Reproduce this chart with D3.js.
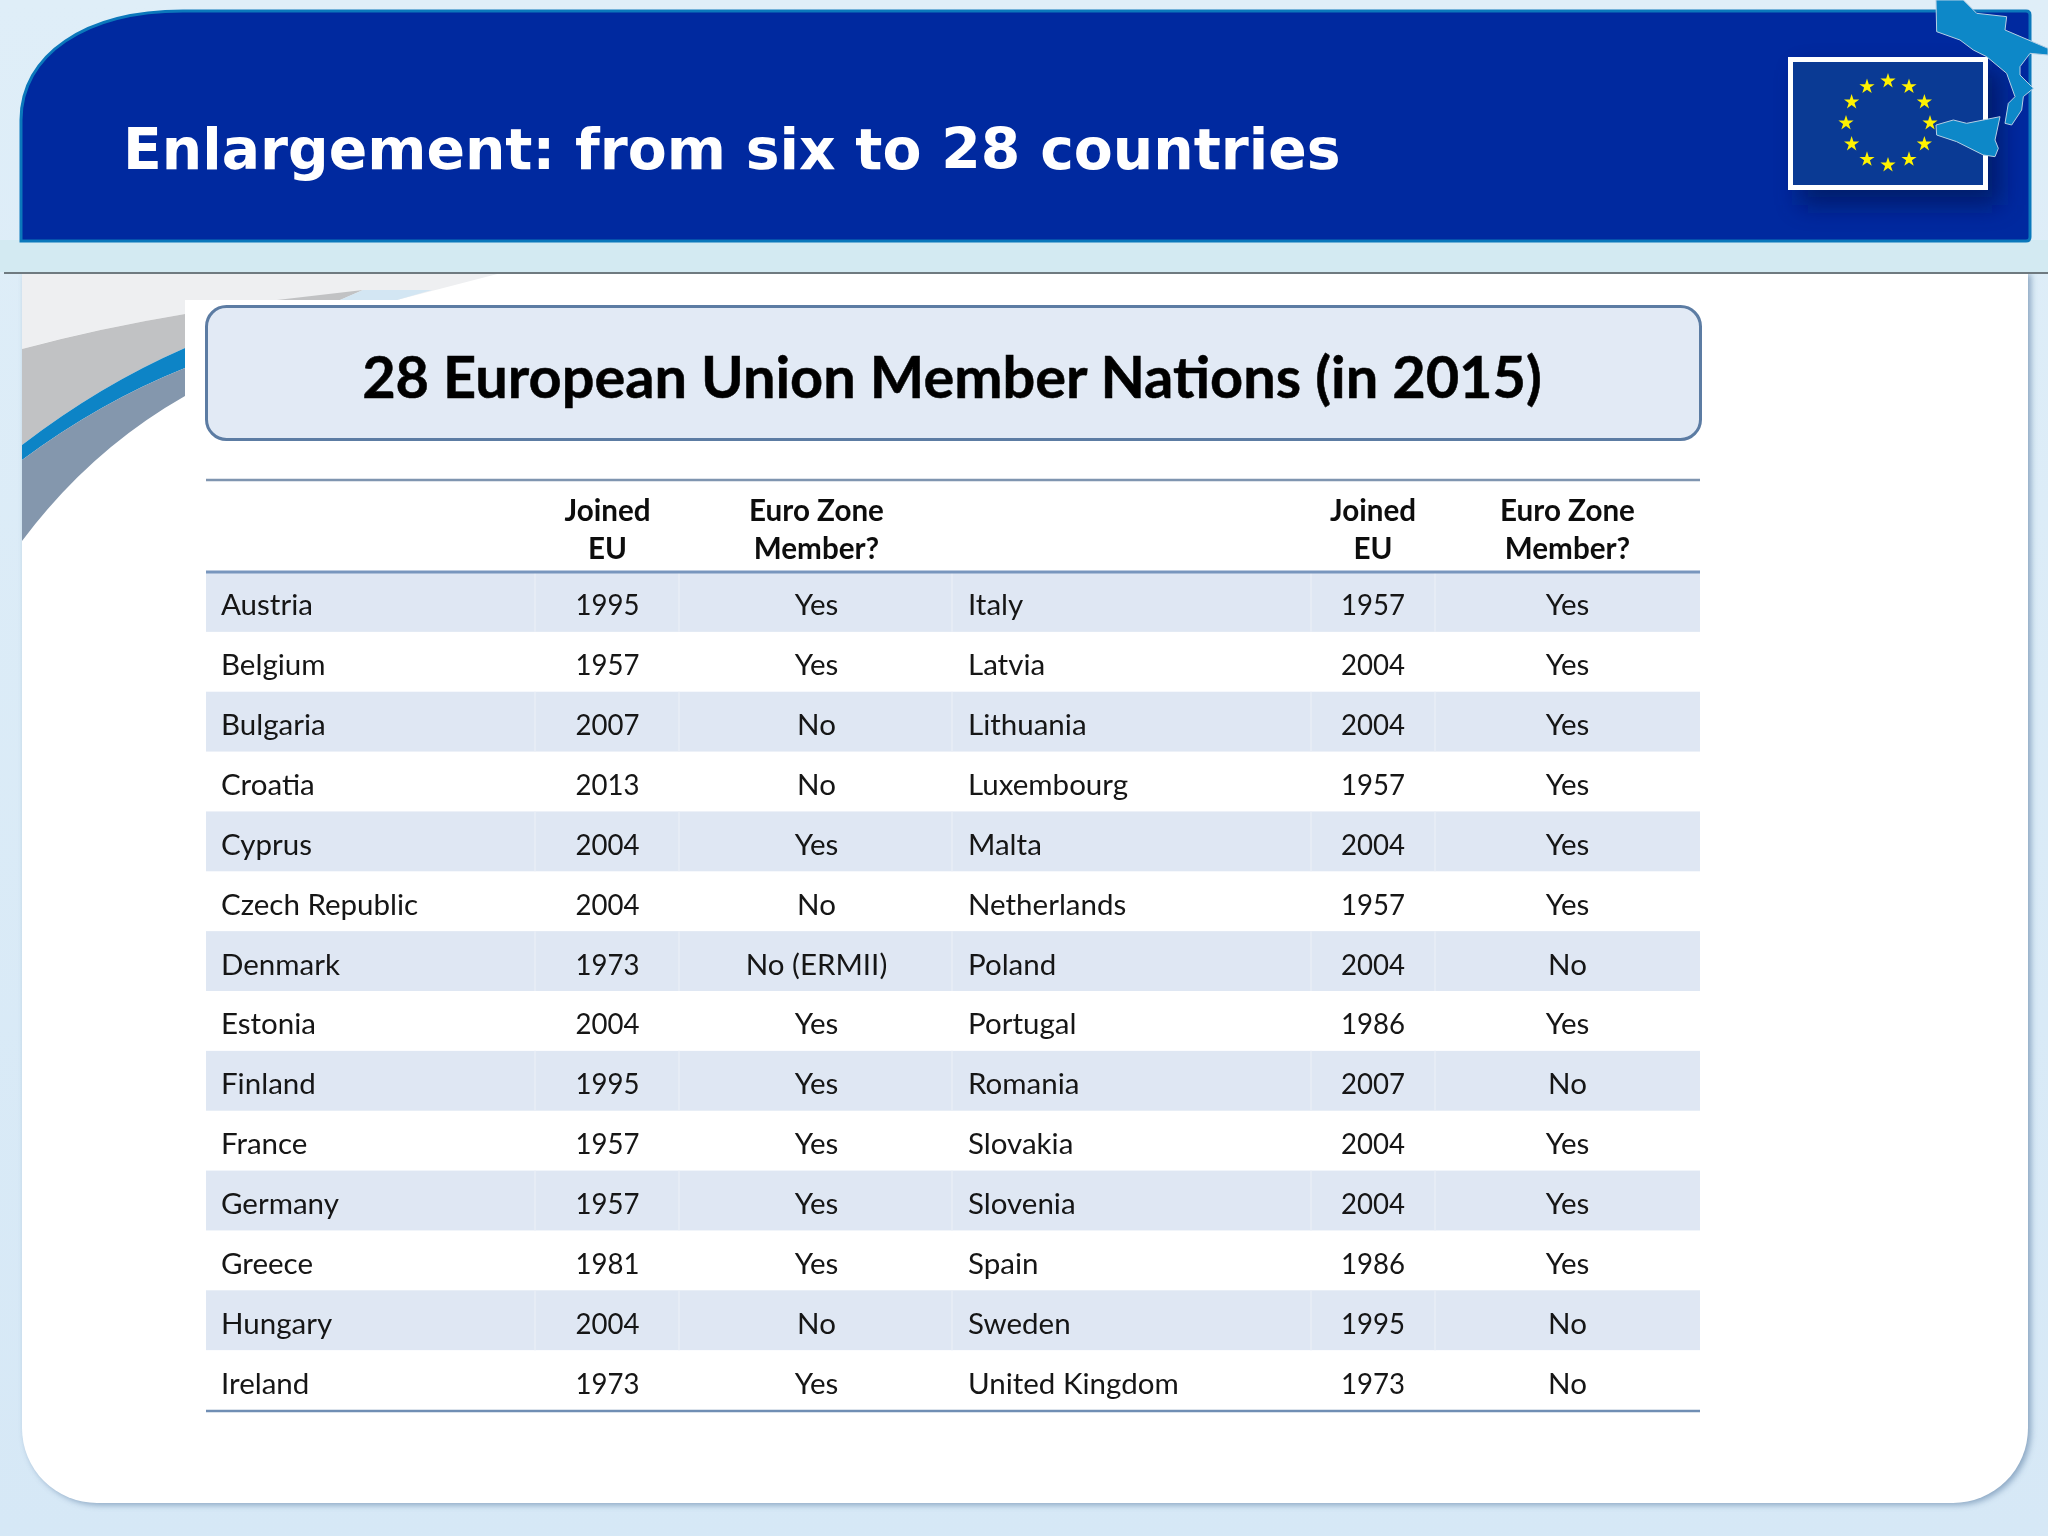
<!DOCTYPE html>
<html>
<head>
<meta charset="utf-8">
<script src="https://cdn.jsdelivr.net/npm/d3@7"></script>
<style>
    html, body { margin: 0; padding: 0; background: #d7e8f6; }
    svg { display: block; }
</style>
</head>
<body>
<div id="slide"></div>
<script>
// table values
const headerJoined = ["Joined", "EU"];
const headerEuro = ["Euro Zone", "Member?"];
const countriesLeft = ["Austria", "Belgium", "Bulgaria", "Croatia", "Cyprus", "Czech Republic", "Denmark", "Estonia", "Finland", "France", "Germany", "Greece", "Hungary", "Ireland"];
const joinedLeft = [1995, 1957, 2007, 2013, 2004, 2004, 1973, 2004, 1995, 1957, 1957, 1981, 2004, 1973];
const euroLeft = ["Yes", "Yes", "No", "No", "Yes", "No", "No (ERMII)", "Yes", "Yes", "Yes", "Yes", "Yes", "No", "Yes"];
const countriesRight = ["Italy", "Latvia", "Lithuania", "Luxembourg", "Malta", "Netherlands", "Poland", "Portugal", "Romania", "Slovakia", "Slovenia", "Spain", "Sweden", "United Kingdom"];
const joinedRight = [1957, 2004, 2004, 1957, 2004, 1957, 2004, 1986, 2007, 2004, 2004, 1986, 1995, 1973];
const euroRight = ["Yes", "Yes", "Yes", "Yes", "Yes", "Yes", "No", "Yes", "No", "Yes", "Yes", "Yes", "No", "No"];

const slideTitle = "Enlargement: from six to 28 countries";
const tableTitle = "28 European Union Member Nations (in 2015)";

const width = 2048, height = 1536;
const tableFont = "Lato, 'Open Sans', sans-serif";

const svg = d3.select("#slide").append("svg")
    .attr("width", width)
    .attr("height", height)
    .attr("viewBox", `0 0 ${width} ${height}`);

const defs = svg.append("defs");

const soft = defs.append("filter").attr("id", "soft")
    .attr("x", "-10%").attr("y", "-10%").attr("width", "125%").attr("height", "125%");
soft.append("feGaussianBlur").attr("stdDeviation", 3);

const flagShadow = defs.append("filter").attr("id", "flagShadow")
    .attr("x", "-20%").attr("y", "-20%").attr("width", "150%").attr("height", "150%");
flagShadow.append("feGaussianBlur").attr("stdDeviation", 12);

const textSoft = defs.append("filter").attr("id", "textSoft");
textSoft.append("feGaussianBlur").attr("stdDeviation", 0.5);

const bg = defs.append("linearGradient").attr("id", "bg")
    .attr("x1", 0).attr("y1", 0).attr("x2", 0).attr("y2", 1);
bg.append("stop").attr("offset", "0%").attr("stop-color", "#dfeef8");
bg.append("stop").attr("offset", "100%").attr("stop-color", "#d6e8f6");

// slide background
svg.append("rect").attr("width", width).attr("height", height).attr("fill", "url(#bg)");

// white panel
const panelPath = "M22,272 H2028 V1428 A75,75 0 0 1 1953,1503 H97 A75,75 0 0 1 22,1428 Z";
svg.append("path").attr("d", panelPath)
    .attr("fill", "#6f8fb0").attr("opacity", 0.75)
    .attr("transform", "translate(3,2)")
    .attr("filter", "url(#soft)");
svg.append("path").attr("d", panelPath).attr("fill", "#ffffff");

// swooshes in the top left corner of the panel
svg.append("path")
    .attr("d", "M22,272 H505 L397,300 H185 V314 Q90,330 22,349 Z")
    .attr("fill", "#eeeff1");
svg.append("path")
    .attr("d", "M277,300 L363,290 L340,300 Z")
    .attr("fill", "#c1c2c4");
svg.append("path")
    .attr("d", "M340,300 L363,290 H432 L397,300 Z")
    .attr("fill", "#d3e6f3");
svg.append("path")
    .attr("d", "M22,349 Q100,328 185,314 L185,348 Q100,385 22,445 Z")
    .attr("fill", "#c1c2c4");
svg.append("path")
    .attr("d", "M22,445 Q100,385 185,348 L185,368 Q100,402 22,460 Z")
    .attr("fill", "#0d84c6");
svg.append("path")
    .attr("d", "M22,460 Q100,402 185,368 L185,396 Q90,450 22,541 Z")
    .attr("fill", "#8497ad");

// pale band and rule under the header
svg.append("rect").attr("x", 0).attr("y", 240).attr("width", width).attr("height", 32).attr("fill", "#d3eaf2");
svg.append("rect").attr("x", 4).attr("y", 272).attr("width", width - 4).attr("height", 2).attr("fill", "#6f7a80");

// blue header
svg.append("path")
    .attr("d", "M21,241 V120 C21,55 85,11 183,11 H2026 Q2030,11 2030,15 V237 Q2030,241 2026,241 Z")
    .attr("fill", "#00299f")
    .attr("stroke", "#0b78bb")
    .attr("stroke-width", 3);

svg.append("text")
    .attr("x", 123)
    .attr("y", 169)
    .attr("font-family", "'DejaVu Sans', Verdana, sans-serif")
    .attr("font-weight", "bold")
    .attr("font-size", 56.8)
    .attr("fill", "#ffffff")
    .text(slideTitle);

// flag
svg.append("rect")
    .attr("x", 1800).attr("y", 70).attr("width", 200).attr("height", 135)
    .attr("fill", "#00144f").attr("opacity", 0.65)
    .attr("filter", "url(#flagShadow)");
svg.append("rect")
    .attr("x", 1790.5).attr("y", 59.5).attr("width", 195).attr("height", 128)
    .attr("fill", "#0a3a94")
    .attr("stroke", "#ffffff")
    .attr("stroke-width", 5);

const starRing = d3.scaleLinear().domain([0, 12]).range([0, 2 * Math.PI]);
const star = d3.symbol().type(d3.symbolStar).size(72);
svg.append("g").selectAll("path")
    .data(d3.range(12))
    .enter()
    .append("path")
    .attr("d", star)
    .attr("fill", "#fff200")
    .attr("transform", d => `translate(${1888 + 42 * Math.sin(starRing(d))},${123 - 42 * Math.cos(starRing(d))})`);

// southern Italy and Sicily over the flag corner
const italyOutline = [[708, 0], [790, 0], [830, 40], [920, 50], [915, 90], [1044, 145], [1044, 165], [990, 160], [960, 200], [960, 225], [1000, 265], [970, 290], [965, 330], [935, 375], [915, 370], [925, 310], [945, 290], [920, 220], [860, 170], [820, 150], [780, 120], [710, 95]];
const sicilyOutline = [[708, 375], [760, 360], [800, 370], [900, 350], [885, 420], [895, 445], [885, 470], [850, 465], [770, 425], [710, 405]];
const mapLine = d3.line().x(d => 1700 + d[0] / 3).y(d => d[1] / 3).curve(d3.curveLinearClosed);
svg.selectAll("path.map")
    .data([italyOutline, sicilyOutline])
    .enter()
    .append("path")
    .attr("class", "map")
    .attr("d", mapLine)
    .attr("fill", "#0d88c8")
    .attr("stroke", "#b5cfe4")
    .attr("stroke-width", 1);

// pasted table picture
svg.append("rect").attr("x", 185).attr("y", 300).attr("width", 1540).attr("height", 1130).attr("fill", "#ffffff");

const table = svg.append("g").attr("filter", "url(#textSoft)");

table.append("rect")
    .attr("x", 206.5).attr("y", 306.5).attr("width", 1494).attr("height", 133).attr("rx", 20)
    .attr("fill", "#e2eaf5")
    .attr("stroke", "#5b7ba3")
    .attr("stroke-width", 3);

table.append("text")
    .attr("x", 952)
    .attr("y", 398)
    .attr("text-anchor", "middle")
    .attr("font-family", tableFont)
    .attr("font-weight", "bold")
    .attr("font-size", 57.7)
    .attr("fill", "#050505")
    .attr("stroke", "#050505")
    .attr("stroke-width", 0.5)
    .text(tableTitle);

// one band per table row, each row holds a left and a right country
const rowScale = d3.scaleBand()
    .domain(countriesLeft)
    .range([572, 1410]);

const leftX = 221, rightX = 968;
const centerX = d3.scaleOrdinal()
    .domain(["joinedLeft", "euroLeft", "joinedRight", "euroRight"])
    .range([607.5, 816.5, 1373, 1567.5]);

const stripes = countriesLeft.filter((d, i) => i % 2 === 0);
table.append("g").selectAll("rect")
    .data(stripes)
    .enter()
    .append("rect")
    .attr("x", 206)
    .attr("y", d => rowScale(d))
    .attr("width", 1494)
    .attr("height", rowScale.bandwidth())
    .attr("fill", "#dfe7f3");

// faint white cell dividers in the striped rows
const dividers = [535, 679, 952, 1311, 1435];
table.append("g").selectAll("g")
    .data(stripes)
    .enter()
    .append("g")
    .selectAll("line")
    .data(d => dividers.map(x => ({x: x, row: d})))
    .enter()
    .append("line")
    .attr("x1", d => d.x).attr("x2", d => d.x)
    .attr("y1", d => rowScale(d.row))
    .attr("y2", d => rowScale(d.row) + rowScale.bandwidth())
    .attr("stroke", "#e9eef6")
    .attr("stroke-width", 1.5);

// horizontal rules
table.append("line").attr("x1", 206).attr("x2", 1700).attr("y1", 480).attr("y2", 480)
    .attr("stroke", "#7f95b0").attr("stroke-width", 2.5);
table.append("line").attr("x1", 206).attr("x2", 1700).attr("y1", 572).attr("y2", 572)
    .attr("stroke", "#7896bd").attr("stroke-width", 3);
table.append("line").attr("x1", 206).attr("x2", 1700).attr("y1", 1411).attr("y2", 1411)
    .attr("stroke", "#6f8eb4").attr("stroke-width", 2.5);

// column headers
const headerLines = [
    {col: "joinedLeft", lines: headerJoined},
    {col: "euroLeft", lines: headerEuro},
    {col: "joinedRight", lines: headerJoined},
    {col: "euroRight", lines: headerEuro}
];
headerLines.forEach(h => {
    table.selectAll(null)
        .data(h.lines)
        .enter()
        .append("text")
        .attr("x", centerX(h.col))
        .attr("y", (d, i) => 521 + i * 38)
        .attr("text-anchor", "middle")
        .attr("font-family", tableFont)
        .attr("font-weight", "bold")
        .attr("font-size", 29.6)
        .attr("fill", "#101010")
        .text(d => d);
});

// body cells
const rowBaseline = i => rowScale(countriesLeft[i]) + rowScale.bandwidth() / 2 + 13.5;

function drawNames(names, x) {
    table.append("g").selectAll("text")
        .data(names)
        .enter()
        .append("text")
        .attr("x", x)
        .attr("y", (d, i) => rowBaseline(i))
        .attr("font-family", tableFont)
        .attr("font-size", 29.5)
        .attr("fill", "#141414")
        .text(d => d);
}

function drawCentered(values, col) {
    return table.append("g").selectAll("text")
        .data(values)
        .enter()
        .append("text")
        .attr("x", centerX(col))
        .attr("y", (d, i) => rowBaseline(i))
        .attr("text-anchor", "middle")
        .attr("font-family", tableFont)
        .attr("font-size", 29.5)
        .attr("fill", "#141414")
        .text(d => d);
}

// the years are narrower in the original face
function drawYears(values, col) {
    drawCentered(values, col)
        .attr("textLength", 64)
        .attr("lengthAdjust", "spacingAndGlyphs");
}

drawNames(countriesLeft, leftX);
drawNames(countriesRight, rightX);
drawYears(joinedLeft, "joinedLeft");
drawCentered(euroLeft, "euroLeft");
drawYears(joinedRight, "joinedRight");
drawCentered(euroRight, "euroRight");
</script>
</body>
</html>
